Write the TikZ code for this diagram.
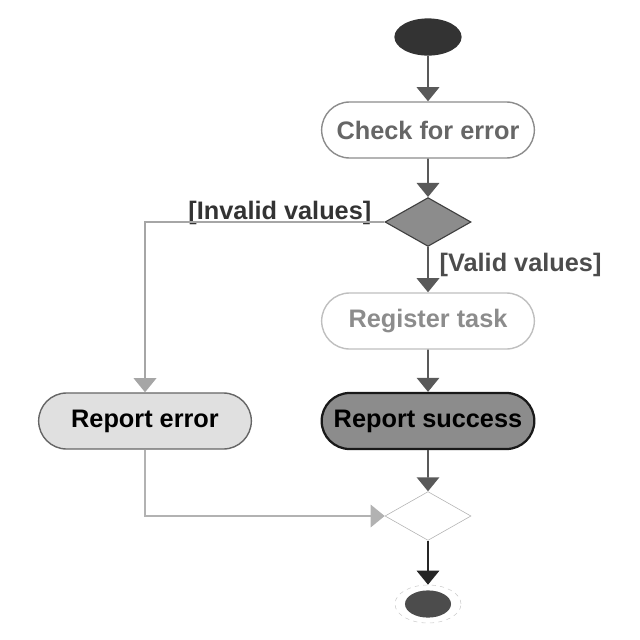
\documentclass[tikz,border=0pt]{standalone}
\usepackage{fontspec}
\setmainfont{Liberation Sans}
\usetikzlibrary{shapes.geometric, shapes.misc, arrows.meta}

\tikzset{
  activity/.style={rounded rectangle, draw, line width=1pt, minimum width=5.55cm,
    minimum height=1.4cm, font=\fontsize{18}{20}\selectfont\bfseries},
  decision/.style={diamond, draw, minimum width=2.15cm, minimum height=1.22cm, inner sep=0pt},
  guard/.style={font=\fontsize{18}{20}\selectfont\bfseries, inner sep=1pt},
  flow/.style={-{Triangle[width=16pt,length=10pt]}, line width=1.3pt, black!65},
}

\begin{document}
\begin{tikzpicture}[x=0.025cm, y=-0.025cm]
        \useasboundingbox (0,0) rectangle (640,640);
        % nodes
        \node[ellipse, fill=black!80, minimum width=1.68cm, minimum height=0.93cm] (start) at (428,37) {};
        \node[activity, draw=black!45, text=black!60] (check) at (428,130) {Check for error};
        \node[decision, fill=black!45, draw=black!75, thick] (valid) at (428,222) {};
        \node[activity, draw=black!25, text=black!45] (register) at (428,321) {Register task};
        \node[activity, fill=black!12, draw=black!60] (error) at (145,421) {Report error};
        \node[activity, fill=black!45, draw=black!90, line width=1.6pt] (success) at (428,421) {Report success};
        \node[decision, fill=white, draw=black!30] (merge) at (428,516) {};
        \node[ellipse, draw=black!20, dashed, minimum width=1.65cm, minimum height=0.95cm] (final) at (428,604) {};
        \node[ellipse, fill=black!70, minimum width=1.15cm, minimum height=0.68cm] (finaldot) at (final) {};
        % guards
        \node[guard, anchor=east, text=black!80] (invalidlabel) at (373,213) {[Invalid values]};
        \node[guard, anchor=west, text=black!70] (validlabel) at (438,265) {[Valid values]};
        % flows
        \draw[flow] (start) -- (check);
        \draw[flow] (check) -- (valid);
        \draw[flow, black!35] (valid.west) -| (error);
        \draw[flow] (valid) -- (register);
        \draw[flow] (register) -- (success);
        \draw[flow] (success) -- (merge);
        \draw[flow, black!30] (error) |- (merge);
        \draw[flow, black!85] (merge) -- (final);
\end{tikzpicture}
\end{document}
